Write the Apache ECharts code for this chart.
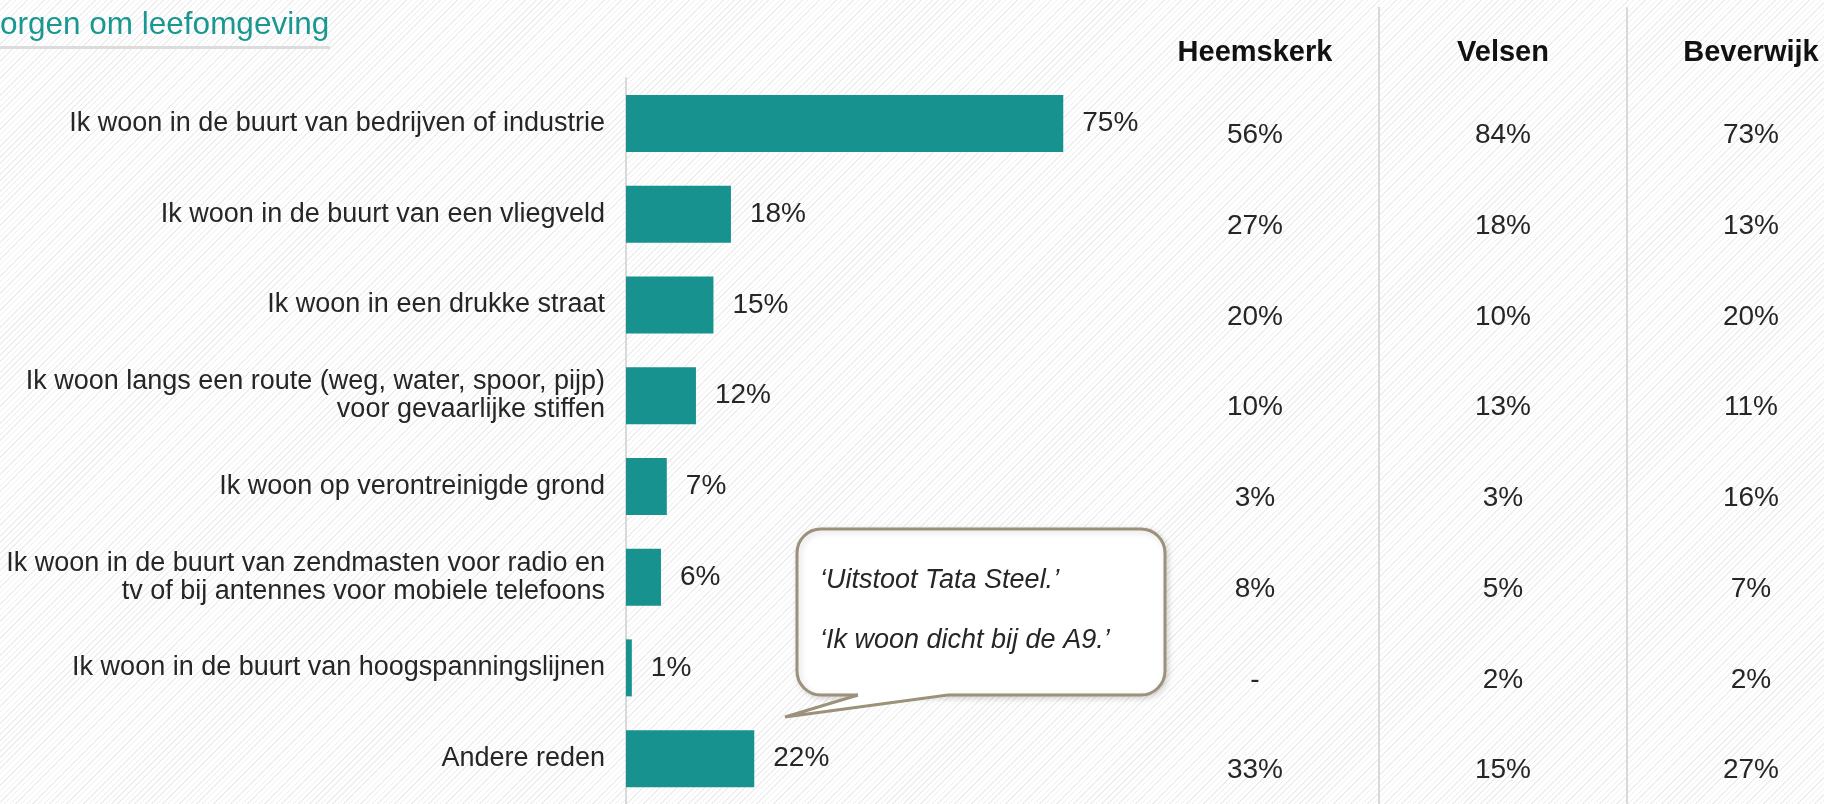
<!DOCTYPE html>
<html>
<head>
<meta charset="utf-8">
<title>Zorgen om leefomgeving</title>
<script src="https://cdn.jsdelivr.net/npm/echarts@6/dist/echarts.min.js"></script>
<style>
  html, body { margin: 0; padding: 0; }
  body {
    background: repeating-linear-gradient(135deg, #ffffff 0px, #ffffff 3px, #eeeeee 3px, #eeeeee 4px);
  }
  #chart { width: 1824px; height: 804px; }
</style>
</head>
<body>
<div id="chart"></div>
<script>
// redenen (categorieën)
var reasons = [
  "Ik woon in de buurt van bedrijven of industrie",
  "Ik woon in de buurt van een vliegveld",
  "Ik woon in een drukke straat",
  "Ik woon langs een route (weg, water, spoor, pijp)\nvoor gevaarlijke stiffen",
  "Ik woon op verontreinigde grond",
  "Ik woon in de buurt van zendmasten voor radio en\ntv of bij antennes voor mobiele telefoons",
  "Ik woon in de buurt van hoogspanningslijnen",
  "Andere reden"
];
// totaal
var totalValues = [75, 18, 15, 12, 7, 6, 1, 22];
// per gemeente
var cities = ["Heemskerk", "Velsen", "Beverwijk"];
var heemskerk = [56, 27, 20, 10, 3, 8, null, 33];
var velsen = [84, 18, 10, 13, 3, 5, 2, 15];
var beverwijk = [73, 13, 20, 11, 16, 7, 2, 27];

var quotes = ["\u2018Uitstoot Tata Steel.\u2019", "\u2018Ik woon dicht bij de A9.\u2019"];

var FONT = "'Liberation Sans', Arial, sans-serif";
var TEAL = "#17928f";
var TEXT = "#262626";
var BUBBLE = "#9c917a";

function cityData(city, values) {
  return values.map(function (v, i) {
    return [city, i, v];
  });
}

function citySeries(city, values) {
  return {
    type: "scatter",
    xAxisIndex: 1,
    yAxisIndex: 1,
    symbolSize: 1,
    itemStyle: { color: "transparent", opacity: 1 },
    silent: true,
    data: cityData(city, values),
    label: {
      show: true,
      position: "inside",
      offset: [0, 12],
      fontFamily: FONT,
      fontSize: 28,
      color: TEXT,
      formatter: function (p) {
        return p.value[2] == null ? "-" : p.value[2] + "%";
      }
    }
  };
}

var chart = echarts.init(document.getElementById("chart"));

chart.setOption({
  backgroundColor: "transparent",
  animation: false,
  textStyle: { fontFamily: FONT },
  grid: [
    // staafdiagram
    { left: 626, right: 615, top: 78, bottom: 0, outerBoundsMode: "none" },
    // tabel per gemeente
    { left: 1131, width: 744, top: 7, bottom: 0, outerBoundsMode: "none" }
  ],
  xAxis: [
    { type: "value", gridIndex: 0, min: 0, max: 100, show: false },
    {
      type: "category",
      gridIndex: 1,
      position: "top",
      data: cities,
      axisLine: { show: false },
      axisTick: { show: false },
      axisLabel: {
        inside: true,
        margin: 46,
        verticalAlign: "middle",
        fontFamily: FONT,
        fontSize: 29,
        fontWeight: "bold",
        color: "#111111"
      },
      splitLine: {
        show: true,
        interval: function (i) { return i > 0; },
        lineStyle: { color: "#d9d9d9", width: 2 }
      }
    }
  ],
  yAxis: [
    {
      type: "category",
      gridIndex: 0,
      inverse: true,
      data: reasons,
      axisLine: { show: true, lineStyle: { color: "#d9d9d9", width: 2 } },
      axisTick: { show: false },
      axisLabel: {
        margin: 21,
        fontFamily: FONT,
        fontSize: 27,
        lineHeight: 28,
        color: TEXT,
        align: "right"
      }
    },
    {
      type: "value",
      gridIndex: 1,
      inverse: true,
      min: -1.283,
      max: 7.499,
      show: false
    }
  ],
  series: [
    {
      type: "bar",
      xAxisIndex: 0,
      yAxisIndex: 0,
      data: totalValues,
      barWidth: 57,
      itemStyle: { color: TEAL },
      label: {
        show: true,
        position: "right",
        distance: 19,
        formatter: "{c}%",
        fontFamily: FONT,
        fontSize: 28,
        color: TEXT
      }
    },
    citySeries(cities[0], heemskerk),
    citySeries(cities[1], velsen),
    citySeries(cities[2], beverwijk)
  ],
  graphic: [
    {
      type: "text",
      left: 0,
      top: 9,
      style: { text: "orgen om leefomgeving", font: "31.5px " + FONT, fill: "#199790" }
    },
    {
      type: "rect",
      shape: { x: 0, y: 46, width: 330, height: 3 },
      style: { fill: "#dcdcdc" }
    },
    // tekstballon
    {
      type: "rect",
      shape: { x: 797, y: 529, width: 368, height: 166, r: 24 },
      style: {
        fill: "#ffffff",
        stroke: BUBBLE,
        lineWidth: 3,
        shadowBlur: 6,
        shadowOffsetX: 2,
        shadowOffsetY: 2,
        shadowColor: "rgba(0,0,0,0.15)"
      },
      z: 10
    },
    {
      type: "polygon",
      shape: { points: [[858, 690], [858, 697], [785, 717], [948, 697], [948, 690]] },
      style: { fill: "#ffffff" },
      z: 11
    },
    {
      type: "polyline",
      shape: { points: [[858, 695], [785, 717], [948, 695]] },
      style: { stroke: BUBBLE, lineWidth: 3, fill: null, lineJoin: "miter" },
      z: 12
    },
    {
      type: "text",
      x: 820,
      y: 580,
      style: { text: quotes[0], font: "italic 27px " + FONT, fill: TEXT, verticalAlign: "middle" },
      z: 13
    },
    {
      type: "text",
      x: 820,
      y: 640,
      style: { text: quotes[1], font: "italic 27px " + FONT, fill: TEXT, verticalAlign: "middle" },
      z: 13
    }
  ]
});
</script>
</body>
</html>
